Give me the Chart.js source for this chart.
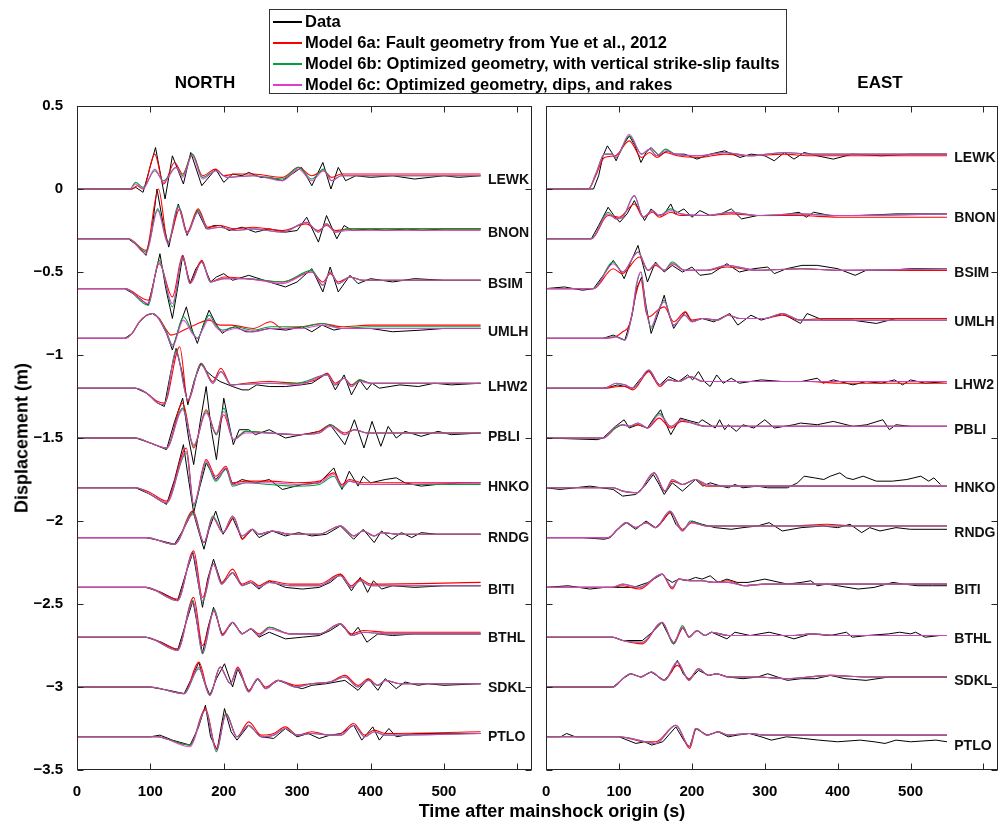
<!DOCTYPE html>
<html>
<head>
<meta charset="utf-8">
<script src="https://cdn.jsdelivr.net/npm/chart.js@4.4.1/dist/chart.umd.min.js"></script>
<style>
  body { margin: 0; background: #fff; }
  #fig { position: relative; width: 1003px; height: 822px; overflow: hidden; background: #fff;
         font-family: "Liberation Sans", Arial, sans-serif; color: #000; }
  canvas { position: absolute; top: 0; }
  #north { left: 0; }
  #east { left: 537px; }
  .txt { position: absolute; font-weight: bold; white-space: nowrap; transform: translate(-50%, -50%); }
  #ylab { left: 22px; top: 438px; font-size: 18px; transform: translate(-50%, -50%) rotate(-90deg); }
  #xlab { left: 552px; top: 811px; font-size: 18px; }
  #tN { left: 205px; top: 83px; font-size: 17px; }
  #tE { left: 880px; top: 83px; font-size: 17px; }
  #legend { position: absolute; left: 269px; top: 9px; width: 518px; height: 85px; border: 1px solid #333;
            background: #fff; box-sizing: border-box; padding-top: 1px; }
  .row { position: relative; height: 21px; line-height: 21px; font-size: 16.5px; font-weight: bold;
         white-space: nowrap; padding-left: 35px; }
  .row i { position: absolute; left: 3px; top: 10px; width: 29px; height: 1.5px; }
</style>
</head>
<body>
<div id="fig">
  <canvas id="north" width="537" height="822"></canvas>
  <canvas id="east" width="466" height="822"></canvas>
  <div class="txt" id="tN">NORTH</div>
  <div class="txt" id="tE">EAST</div>
  <div class="txt" id="ylab">Displacement (m)</div>
  <div class="txt" id="xlab">Time after mainshock origin (s)</div>
  <div id="legend">
    <div class="row"><i style="background:#000"></i>Data</div>
    <div class="row"><i style="background:#ff0000"></i>Model 6a: Fault geometry from Yue et al., 2012</div>
    <div class="row"><i style="background:#00a03c"></i>Model 6b: Optimized geometry, with vertical strike-slip faults</div>
    <div class="row"><i style="background:#e03ccd"></i>Model 6c: Optimized geometry, dips, and rakes</div>
  </div>
</div>
<script>
// stations, offsets (m) and traces: [time s, displacement cm relative to offset, ...]
const stations = ["LEWK", "BNON", "BSIM", "UMLH", "LHW2", "PBLI", "HNKO", "RNDG", "BITI", "BTHL", "SDKL", "PTLO"];
const stationOffsets = [0, -0.3, -0.6, -0.9, -1.2, -1.5, -1.8, -2.1, -2.4, -2.7, -3.0, -3.3];
const xTicks = [0, 100, 200, 300, 400, 500, 600];
const xTickLabels = ["0", "100", "200", "300", "400", "500", ""];
const yTicks = [-3.5, -3, -2.5, -2, -1.5, -1, -0.5, 0, 0.5];

// ---------- NORTH ----------
const northData = [
  [0,0, 75,0, 80,1, 90,-2, 107,25, 120,-6, 130,20, 145,3, 155,22, 170,2, 189,12, 200,4, 212,9, 225,8, 234,10, 250,7, 262,7, 280,5, 306,13, 320,2, 335,16, 346,0, 356,13, 366,5, 380,8, 400,7, 430,8, 460,6, 500,8, 520,7, 550,8],
  [0,0, 70,0, 82,-4, 94,-10, 102,5, 109,30, 117,10, 125,-5, 138,21, 150,2, 164,17, 176,6, 186,8, 196,8, 207,5, 225,7, 243,4, 262,6, 284,4, 300,5, 313,13, 329,-2, 340,14, 354,0, 364,8, 375,5, 400,6, 420,5, 450,6, 470,5, 500,6, 550,6],
  [0,0, 65,0, 80,-4, 97,-10, 105,5, 113,21, 121,0, 130,-18, 137,0, 144,20, 154,3, 162,12, 170,17, 182,4, 190,7, 200,9, 212,5, 234,8, 262,4, 284,1, 300,4, 320,12, 335,-2, 345,13, 356,-2, 372,8, 383,3, 400,6, 430,4, 460,6, 500,5, 550,5],
  [0,0, 65,0, 75,3, 85,10, 95,14, 103,15, 112,12, 122,3, 130,-7, 140,8, 149,19, 157,5, 164,-3, 172,8, 180,17, 189,9, 198,3, 207,6, 216,7, 230,4, 240,4, 262,6, 285,5, 307,7, 320,4, 334,8, 350,5, 361,6, 400,6, 430,4, 470,5, 500,6, 550,6],
  [0,0, 80,0, 95,-3, 110,-9, 119,-11, 127,8, 135,24, 143,10, 151,-10, 160,5, 169,15, 177,10, 185,7, 195,4, 212,1, 225,-1, 234,-1, 245,2, 262,1, 284,1, 305,2, 320,3, 341,9, 352,-1, 364,8, 374,-4, 385,5, 395,-1, 402,3, 412,0, 440,2, 465,1, 487,3, 510,2, 550,3],
  [0,0, 80,0, 100,-3, 122,-7, 133,10, 144,24, 152,0, 159,-16, 168,10, 176,31, 183,5, 190,-13, 200,24, 213,-4, 221,5, 234,5, 243,2, 262,5, 284,0, 307,2, 330,4, 345,8, 365,-4, 378,11, 391,-6, 402,10, 414,-5, 424,7, 435,0, 447,4, 469,1, 492,4, 510,2, 550,3],
  [0,0, 80,0, 100,-4, 122,-10, 133,5, 145,26, 152,5, 159,-15, 167,0, 176,15, 189,5, 203,12, 212,2, 225,5, 243,3, 262,5, 280,-1, 307,2, 330,3, 350,12, 361,-1, 371,10, 383,1, 390,7, 400,3, 420,5, 435,6, 447,3, 469,1, 490,2, 520,3, 550,3],
  [0,0, 94,0, 115,-2, 133,-4, 145,5, 158,16, 165,5, 173,-7, 180,5, 189,16, 199,2, 212,12, 225,-1, 239,5, 248,0, 266,4, 284,1, 302,3, 320,1, 340,2, 359,7, 377,-1, 390,5, 405,-3, 415,4, 429,-1, 442,3, 456,0, 469,3, 490,2, 550,2],
  [0,0, 94,0, 115,-3, 137,-8, 148,8, 158,21, 165,3, 171,-12, 178,5, 186,17, 197,2, 212,9, 225,1, 237,3, 248,-1, 262,4, 284,0, 307,-1, 330,0, 345,3, 359,8, 374,-2, 386,6, 396,-3, 404,4, 415,-1, 430,1, 460,0, 500,1, 550,1],
  [0,0, 94,0, 115,-3, 137,-8, 148,8, 158,22, 165,5, 171,-10, 178,5, 186,18, 198,1, 212,9, 225,2, 237,5, 248,0, 262,3, 284,-1, 307,0, 330,1, 345,4, 359,8, 374,1, 383,6, 395,-3, 410,2, 430,1, 460,2, 500,2, 550,2],
  [0,0, 99,0, 125,-2, 146,-4, 156,5, 166,15, 172,5, 181,-5, 190,5, 201,14, 212,0, 219,11, 234,-3, 246,5, 257,-1, 274,4, 298,0, 307,-1, 320,1, 340,2, 365,4, 383,-2, 397,5, 410,-2, 420,5, 435,-1, 447,3, 465,1, 478,2, 500,1, 550,2],
  [0,0, 100,0, 113,1, 130,-2, 154,-5, 165,5, 175,19, 182,0, 191,-8, 196,5, 201,17, 210,3, 218,-2, 234,7, 251,0, 268,-1, 284,5, 300,0, 315,2, 330,-1, 345,1, 360,2, 377,7, 388,-2, 403,6, 412,-2, 425,5, 435,0, 460,2, 500,2, 550,2]
];

const northModelA = [
  [0,0, 75,0, 82,2, 90,0, 106,21, 118,3, 133,16, 144,9, 157,21, 171,8, 189,12, 200,8, 215,9, 240,9, 280,7, 302,13, 320,8, 336,11, 347,7, 360,9, 550,9],
  [0,0, 70,0, 94,-7, 111,30, 124,-2, 140,18, 150,4, 165,18, 178,7, 195,8, 215,6, 240,7, 280,5, 312,9, 329,5, 340,8, 352,5, 370,6, 550,6],
  [0,0, 65,0, 97,-7, 112,15, 130,-5, 144,20, 154,4, 170,17, 182,4, 200,7, 230,6, 280,4, 320,10, 335,4, 345,9, 356,4, 372,7, 390,5, 550,5],
  [0,0, 65,0, 75,3, 85,10, 95,14, 103,15, 112,12, 122,5, 128,2, 150,6, 165,9, 180,11, 195,8, 210,8, 240,6, 264,10, 280,6, 307,7, 334,9, 361,7, 400,8, 550,8],
  [0,0, 80,0, 95,-3, 110,-8, 119,-9, 140,25, 151,-8, 169,15, 185,4, 196,12, 210,2, 230,3, 262,4, 300,3, 325,5, 341,9, 352,3, 364,6, 374,2, 385,5, 400,3, 550,3],
  [0,0, 80,0, 100,-3, 122,-6, 144,21, 159,-6, 176,17, 190,2, 200,14, 213,-1, 230,4, 262,3, 300,2, 330,4, 345,8, 365,3, 378,5, 395,3, 550,3],
  [0,0, 80,0, 100,-3, 122,-8, 149,24, 159,-10, 176,17, 189,7, 203,13, 212,3, 230,4, 262,4, 300,3, 330,4, 350,9, 361,2, 371,5, 390,3, 550,3],
  [0,0, 94,0, 133,-4, 158,16, 173,-3, 185,12, 199,3, 214,12, 225,-1, 239,5, 248,2, 266,4, 290,2, 330,2, 359,7, 377,1, 390,4, 405,1, 415,3, 440,2, 550,2],
  [0,0, 94,0, 137,-7, 159,22, 171,-6, 186,14, 197,3, 212,11, 225,2, 237,4, 248,1, 262,4, 290,2, 330,2, 359,8, 374,1, 386,5, 400,2, 550,3],
  [0,0, 94,0, 137,-7, 159,24, 171,-5, 187,16, 198,2, 212,9, 225,2, 237,5, 248,2, 262,6, 290,2, 330,2, 359,8, 374,2, 390,4, 420,3, 550,3],
  [0,0, 99,0, 146,-4, 166,15, 181,-5, 195,12, 209,2, 219,12, 234,-2, 246,5, 257,0, 274,4, 298,1, 320,2, 345,3, 365,7, 383,1, 397,5, 410,1, 420,4, 440,2, 550,2],
  [0,0, 110,0, 120,-1, 154,-5, 175,17, 190,-7, 203,14, 218,0, 234,9, 251,1, 268,2, 284,6, 300,1, 320,3, 345,1, 360,2, 377,8, 392,1, 405,4, 420,2, 550,3]
];

const northModelB = [
  [0,0, 72,0, 80,4, 90,1, 106,11, 118,5, 135,13, 144,8, 157,21, 171,7, 189,11, 205,7, 240,8, 280,6, 302,13, 320,6, 336,12, 347,5, 360,8, 550,8],
  [0,0, 70,0, 94,-8, 110,18, 124,-2, 138,20, 150,3, 165,17, 178,6, 195,7, 215,5, 240,6, 280,4, 313,10, 329,4, 340,9, 352,4, 370,6, 550,6],
  [0,0, 65,0, 97,-10, 112,17, 130,-11, 144,19, 154,3, 170,16, 182,4, 200,6, 230,6, 280,4, 320,11, 335,2, 345,10, 356,3, 372,7, 390,5, 550,5],
  [0,0, 65,0, 75,3, 85,10, 103,15, 122,4, 130,-4, 145,13, 157,4, 164,0, 172,7, 180,14, 189,8, 198,5, 216,7, 240,5, 264,7, 307,7, 334,9, 361,6, 400,7, 550,7],
  [0,0, 80,0, 95,-3, 110,-9, 119,-10, 135,23, 151,-7, 169,15, 185,3, 196,10, 210,2, 262,3, 300,3, 341,8, 352,2, 364,6, 374,1, 385,5, 400,3, 550,3],
  [0,0, 80,0, 100,-3, 122,-6, 144,18, 159,-5, 176,16, 190,2, 200,18, 213,-1, 230,4, 262,3, 300,2, 330,3, 345,8, 365,2, 378,5, 395,3, 550,3],
  [0,0, 80,0, 100,-4, 122,-9, 149,21, 159,-11, 176,15, 189,4, 203,11, 212,1, 230,3, 262,2, 300,1, 330,2, 350,7, 361,0, 371,4, 390,2, 550,2],
  [0,0, 94,0, 133,-4, 158,15, 173,-3, 185,13, 199,3, 212,13, 225,1, 239,5, 248,2, 266,4, 290,2, 330,2, 359,7, 377,1, 390,4, 405,1, 415,3, 440,2, 550,2],
  [0,0, 94,0, 137,-8, 158,20, 171,-9, 186,14, 197,2, 212,9, 225,1, 237,3, 248,0, 262,3, 290,1, 330,1, 359,7, 374,0, 386,4, 400,1, 550,1],
  [0,0, 94,0, 137,-8, 158,22, 171,-10, 187,17, 198,1, 212,9, 225,2, 237,5, 248,1, 262,6, 290,2, 330,2, 359,8, 374,1, 390,3, 420,2, 550,2],
  [0,0, 99,0, 146,-4, 166,11, 181,-5, 195,12, 209,2, 219,11, 234,-3, 246,5, 257,-1, 274,4, 298,0, 320,2, 345,3, 365,6, 383,0, 397,4, 410,1, 420,4, 440,2, 550,2],
  [0,0, 110,0, 120,-1, 154,-5, 175,16, 190,-9, 203,14, 218,0, 234,7, 251,0, 268,1, 284,5, 300,1, 320,2, 345,1, 360,1, 377,7, 392,0, 405,3, 420,1, 550,2]
];

const northModelC = [
  [0,0, 72,0, 80,3, 90,0, 106,12, 118,4, 135,13, 144,7, 157,20, 171,6, 189,11, 205,7, 240,8, 280,5, 302,12, 320,5, 336,11, 347,5, 360,8, 550,8],
  [0,0, 70,0, 94,-9, 110,17, 124,-3, 138,19, 150,3, 165,16, 178,6, 195,7, 215,5, 240,6, 280,4, 313,10, 329,4, 340,9, 352,4, 370,5, 550,5],
  [0,0, 65,0, 97,-9, 112,16, 130,-9, 144,19, 154,3, 170,16, 182,4, 200,6, 230,6, 280,3, 320,10, 335,2, 345,10, 356,3, 372,7, 390,5, 550,5],
  [0,0, 65,0, 75,3, 85,10, 103,15, 122,3, 130,-5, 145,11, 157,3, 164,0, 172,6, 180,12, 189,7, 198,4, 216,6, 240,4, 264,6, 307,6, 334,8, 361,6, 400,6, 550,6],
  [0,0, 80,0, 95,-3, 110,-9, 119,-10, 135,22, 151,-7, 169,14, 185,3, 196,10, 210,2, 262,3, 300,2, 341,8, 352,2, 364,6, 374,1, 385,4, 400,3, 550,3],
  [0,0, 80,0, 100,-3, 122,-6, 144,17, 159,-4, 176,15, 190,3, 200,16, 213,-1, 230,3, 262,3, 300,2, 330,3, 345,7, 365,2, 378,5, 395,3, 550,3],
  [0,0, 80,0, 100,-4, 122,-9, 149,22, 159,-10, 176,16, 189,5, 203,12, 212,2, 230,3, 262,3, 300,2, 330,3, 350,8, 361,1, 371,4, 390,2, 550,3],
  [0,0, 94,0, 133,-4, 158,14, 173,-3, 185,12, 199,3, 212,13, 225,1, 239,5, 248,2, 266,4, 290,2, 330,2, 359,7, 377,1, 390,4, 405,1, 415,3, 440,2, 550,2],
  [0,0, 94,0, 137,-8, 158,20, 171,-8, 186,14, 197,2, 212,9, 225,1, 237,3, 248,0, 262,3, 290,1, 330,1, 359,7, 374,0, 386,4, 400,1, 550,1],
  [0,0, 94,0, 137,-8, 158,21, 171,-9, 187,16, 198,1, 212,9, 225,2, 237,5, 248,1, 262,5, 290,2, 330,2, 359,8, 374,1, 390,3, 420,2, 550,2],
  [0,0, 99,0, 146,-4, 166,12, 181,-5, 195,12, 209,2, 219,11, 234,-3, 246,5, 257,-1, 274,4, 298,0, 320,2, 345,3, 365,6, 383,0, 397,4, 410,1, 420,4, 440,2, 550,2],
  [0,0, 110,0, 120,-1, 154,-6, 175,16, 190,-8, 203,13, 218,0, 234,7, 251,0, 268,1, 284,5, 300,1, 320,2, 345,1, 360,1, 377,7, 392,0, 405,3, 420,1, 550,2]
];

// ---------- EAST ----------
const eastData = [
  [0,0, 65,0, 72,8, 78,20, 84,26, 90,22, 96,17, 105,26, 114,32, 122,26, 130,16, 137,22, 144,25, 155,20, 166,23, 177,21, 190,21, 207,18, 225,21, 245,23, 266,19, 281,21, 300,20, 313,17, 327,22, 340,18, 354,22, 372,20, 394,18, 420,21, 460,20, 500,21, 550,21],
  [0,0, 62,0, 72,8, 85,19, 93,14, 101,10, 111,15, 121,23, 128,17, 135,11, 144,18, 153,14, 162,15, 171,21, 177,15, 189,18, 200,13, 211,17, 225,14, 240,15, 254,18, 268,12, 290,14, 320,14, 347,16, 357,13, 367,16, 390,14, 430,14, 480,15, 550,15],
  [0,0, 25,1, 50,-1, 65,0, 80,9, 92,17, 100,12, 107,6, 117,17, 126,26, 133,14, 139,4, 150,16, 162,10, 173,14, 187,10, 200,13, 211,8, 227,9, 248,15, 265,10, 285,12, 304,13, 313,9, 330,12, 351,14, 372,14, 400,12, 424,8, 439,11, 470,11, 500,12, 550,12],
  [0,0, 78,0, 92,2, 108,-1, 118,14, 124,30, 131,37, 137,20, 144,3, 153,14, 162,26, 168,15, 175,6, 184,12, 191,16, 200,10, 214,12, 230,10, 252,15, 263,8, 281,14, 295,11, 324,15, 349,9, 358,15, 380,11, 420,11, 453,9, 480,12, 550,12],
  [0,0, 78,0, 90,1, 98,2, 108,1, 119,0, 130,6, 141,11, 149,5, 156,2, 168,7, 182,4, 194,8, 201,5, 209,10, 217,4, 225,1, 234,8, 243,3, 254,6, 265,3, 295,5, 325,4, 350,4, 372,6, 380,3, 394,5, 421,2, 439,4, 460,3, 478,5, 489,2, 500,5, 520,3, 550,4],
  [0,0, 70,-1, 78,0, 95,7, 107,11, 114,6, 126,8, 139,6, 148,12, 157,17, 164,9, 171,2, 184,12, 200,10, 209,9, 214,11, 232,6, 238,11, 245,5, 250,8, 261,4, 270,8, 285,6, 300,11, 313,6, 340,8, 349,9, 372,8, 394,10, 421,7, 440,8, 462,11, 471,5, 480,8, 500,7, 550,7],
  [0,0, 19,-1, 60,1, 92,-1, 105,-5, 123,-4, 135,1, 147,8, 155,2, 162,-4, 173,3, 187,-2, 205,5, 215,1, 225,3, 240,1, 250,0, 259,2, 270,0, 290,1, 304,0, 331,0, 345,3, 354,7, 368,6, 381,5, 390,7, 403,9, 412,6, 421,5, 435,7, 453,4, 475,4, 495,5, 514,7, 525,4, 532,6, 541,2],
  [0,0, 50,0, 80,-1, 88,0, 98,5, 110,9, 123,5, 137,10, 150,6, 160,10, 170,16, 178,8, 187,4, 200,10, 214,8, 232,6, 254,5, 270,6, 290,7, 306,9, 324,4, 350,6, 380,7, 400,6, 417,8, 433,3, 444,6, 458,4, 480,6, 500,5, 550,5],
  [0,0, 30,1, 60,-1, 80,0, 100,0, 120,0, 140,3, 159,8, 166,5, 173,3, 182,5, 193,4, 205,6, 214,5, 225,7, 236,3, 248,5, 262,3, 277,3, 300,5, 331,2, 350,3, 363,4, 372,1, 385,2, 400,1, 428,-1, 450,0, 476,3, 490,2, 510,1, 530,1, 550,1],
  [0,0, 92,0, 105,-2, 132,-2, 148,4, 159,9, 167,2, 175,-4, 187,6, 196,0, 207,4, 218,1, 227,3, 248,-1, 259,3, 280,1, 306,3, 325,1, 340,-1, 363,2, 390,1, 412,3, 420,0, 440,1, 470,2, 485,3, 500,2, 507,3, 520,0, 540,1, 550,1],
  [0,0, 92,0, 105,5, 116,8, 130,6, 144,9, 162,4, 172,9, 180,16, 188,8, 196,4, 209,10, 223,7, 234,8, 250,6, 270,5, 290,6, 304,8, 331,4, 350,5, 370,5, 390,7, 410,5, 439,4, 470,6, 500,6, 550,6],
  [0,0, 20,0, 28,2, 40,0, 100,0, 123,-4, 135,-3, 145,-5, 160,-3, 178,6, 190,-3, 197,-6, 205,5, 221,1, 236,3, 250,0, 262,1, 279,2, 295,0, 309,-2, 330,0, 353,-1, 374,-2, 400,-3, 431,-2, 450,-3, 465,-4, 480,-2, 500,-3, 535,-2, 550,-3]
];

const eastModelA = [
  [0,0, 58,0, 68,8, 80,19, 95,20, 114,29, 131,19, 142,22, 152,19, 164,22, 180,20, 210,19, 245,21, 280,20, 327,21, 360,20, 550,20],
  [0,0, 62,0, 85,14, 100,13, 121,21, 133,13, 146,16, 155,13, 171,16, 185,14, 220,14, 254,15, 290,14, 347,14, 400,13, 550,13],
  [0,0, 65,0, 92,12, 104,9, 128,19, 140,11, 150,14, 162,11, 173,15, 190,11, 220,11, 248,13, 290,11, 351,12, 400,11, 550,11],
  [0,0, 78,0, 95,1, 105,4, 114,8, 124,28, 130,35, 137,16, 141,13, 153,17, 162,19, 175,10, 191,16, 200,11, 214,12, 235,11, 250,14, 265,12, 300,12, 324,14, 349,11, 380,12, 550,12],
  [0,0, 80,0, 100,1, 108,1, 119,-1, 141,10, 156,1, 168,5, 182,4, 198,7, 215,4, 250,4, 300,4, 360,4, 400,3, 550,3],
  [0,0, 78,0, 95,6, 105,8, 114,7, 126,8, 139,6, 155,12, 171,6, 186,10, 200,9, 220,7, 250,7, 300,7, 360,7, 420,7, 550,7],
  [0,0, 92,0, 105,-2, 125,-3, 148,9, 163,-2, 173,4, 187,2, 205,5, 220,1, 250,1, 300,1, 350,1, 400,1, 550,1],
  [0,0, 85,0, 98,5, 110,9, 123,6, 137,9, 150,6, 171,15, 187,5, 200,9, 220,7, 260,7, 300,7, 340,7, 385,8, 420,7, 550,7],
  [0,0, 90,0, 105,1, 128,-1, 159,8, 173,-1, 182,5, 200,4, 214,4, 230,3, 250,4, 272,1, 300,2, 350,2, 400,2, 550,2],
  [0,0, 92,0, 105,-2, 132,-4, 159,9, 175,-4, 188,6, 196,0, 207,4, 218,1, 227,3, 250,1, 300,1, 340,1, 363,2, 400,1, 550,1],
  [0,0, 92,0, 105,5, 116,8, 130,6, 144,9, 162,4, 180,13, 196,5, 209,11, 223,7, 234,8, 250,6, 290,6, 330,5, 390,7, 440,6, 550,6],
  [0,0, 100,0, 136,-3, 150,-3, 178,7, 197,-7, 206,5, 221,1, 236,3, 250,1, 279,2, 300,1, 374,1, 400,1, 550,1]
];

const eastModelB = [
  [0,0, 58,0, 68,9, 80,21, 90,21, 96,19, 114,32, 131,21, 142,24, 152,20, 164,24, 177,21, 210,20, 245,22, 280,20, 327,22, 360,21, 550,21],
  [0,0, 62,0, 85,16, 96,12, 105,13, 121,26, 133,13, 146,17, 155,14, 171,18, 185,15, 220,14, 254,16, 290,14, 347,15, 400,14, 550,15],
  [0,0, 65,0, 92,16, 105,10, 126,22, 140,11, 150,15, 162,11, 173,16, 190,11, 220,11, 248,14, 290,11, 351,12, 400,11, 550,12],
  [0,0, 78,0, 95,1, 108,-1, 118,15, 124,32, 130,40, 137,18, 144,6, 153,16, 162,23, 175,8, 190,14, 200,10, 214,12, 235,11, 250,14, 265,12, 300,12, 324,15, 349,11, 380,11, 550,11],
  [0,0, 80,0, 96,3, 108,2, 119,0, 141,11, 156,2, 168,5, 182,4, 198,7, 215,4, 250,4, 300,4, 360,4, 400,4, 550,4],
  [0,0, 78,0, 95,6, 105,8, 114,7, 126,9, 139,6, 155,15, 171,7, 186,11, 200,9, 220,7, 250,7, 300,7, 360,7, 420,7, 550,7],
  [0,0, 92,0, 105,-2, 125,-3, 148,9, 163,-2, 173,5, 187,2, 205,5, 220,2, 250,1, 300,1, 350,1, 400,1, 550,1],
  [0,0, 85,0, 98,5, 110,9, 123,6, 137,9, 150,6, 170,16, 187,4, 198,10, 220,7, 260,7, 300,7, 340,7, 385,7, 420,7, 550,7],
  [0,0, 90,0, 105,2, 128,0, 159,8, 173,0, 182,5, 200,4, 214,4, 230,3, 250,3, 272,1, 300,2, 350,2, 400,2, 550,2],
  [0,0, 92,0, 105,-2, 132,-3, 159,9, 175,-4, 187,7, 196,0, 207,4, 218,1, 227,3, 250,1, 300,1, 340,1, 363,2, 400,1, 550,1],
  [0,0, 92,0, 105,5, 116,8, 130,6, 144,9, 162,4, 180,15, 196,4, 209,11, 223,7, 234,8, 250,6, 290,6, 330,5, 390,7, 440,6, 550,6],
  [0,0, 100,0, 136,-3, 150,-4, 178,7, 197,-6, 205,5, 221,1, 236,3, 250,1, 279,2, 300,1, 374,1, 400,1, 550,1]
];

const eastModelC = [
  [0,0, 58,0, 68,9, 80,21, 90,21, 96,19, 114,33, 131,21, 142,24, 152,20, 164,23, 177,21, 210,20, 245,22, 280,20, 327,22, 360,21, 550,21],
  [0,0, 62,0, 85,15, 96,12, 105,13, 121,26, 133,13, 146,17, 155,14, 171,17, 185,15, 220,14, 254,16, 290,14, 347,15, 400,14, 550,15],
  [0,0, 65,0, 92,15, 105,10, 126,22, 140,11, 150,15, 162,11, 173,15, 190,11, 220,11, 248,14, 290,11, 351,12, 400,11, 550,12],
  [0,0, 78,0, 95,1, 108,-1, 118,15, 124,33, 130,40, 137,18, 144,7, 153,16, 162,22, 175,8, 190,14, 200,10, 214,12, 235,11, 250,14, 265,12, 300,12, 324,15, 349,11, 380,11, 550,11],
  [0,0, 80,0, 96,3, 108,2, 119,0, 141,11, 156,2, 168,5, 182,4, 198,7, 215,4, 250,4, 300,4, 360,4, 400,4, 550,4],
  [0,0, 78,0, 95,7, 105,8, 114,7, 126,9, 139,6, 155,14, 171,7, 186,11, 200,9, 220,7, 250,7, 300,7, 360,7, 420,7, 550,7],
  [0,0, 92,0, 105,-2, 125,-3, 148,9, 163,-2, 173,5, 187,2, 205,5, 220,2, 250,1, 300,1, 350,1, 400,1, 550,1],
  [0,0, 85,0, 98,5, 110,9, 123,6, 137,9, 150,6, 170,16, 187,4, 198,9, 220,7, 260,7, 300,7, 340,7, 385,7, 420,7, 550,7],
  [0,0, 90,0, 105,2, 128,0, 159,8, 173,0, 182,5, 200,4, 214,4, 230,3, 250,3, 272,1, 300,2, 350,2, 400,2, 550,2],
  [0,0, 92,0, 105,-2, 132,-3, 159,9, 175,-3, 187,6, 196,0, 207,4, 218,1, 227,3, 250,1, 300,1, 340,1, 363,2, 400,1, 550,1],
  [0,0, 92,0, 105,5, 116,8, 130,6, 144,9, 162,4, 180,15, 196,4, 209,11, 223,7, 234,8, 250,6, 290,6, 330,5, 390,7, 440,6, 550,6],
  [0,0, 100,0, 136,-3, 150,-4, 178,7, 197,-6, 205,5, 221,1, 236,3, 250,1, 279,2, 300,1, 374,1, 400,1, 550,1]
];

// ===============================
// helpers
// ===============================

Chart.defaults.font.family = "'Liberation Sans', Arial, sans-serif";
Chart.defaults.color = "#000";

function toPoints(pairs, offset) {
    const pts = [];
    for (let i = 0; i < pairs.length; i += 2) {
        pts.push({ x: pairs[i], y: offset + pairs[i + 1] / 100 });
    }
    return pts;
}

function fmtNum(v) {
    const s = String(Math.round(v * 10) / 10);
    return s.replace("-", "\u2212");
}

// box round the plot with inward ticks on all four sides
const boxPlugin = {
    id: "matlabBox",
    afterDraw: function (chart) {
        const ctx = chart.ctx;
        const a = chart.chartArea;
        const xs = chart.scales.x;
        const ys = chart.scales.y;
        const L = Math.round(a.left) + 0.5, R = Math.round(a.right) - 0.5;
        const T = Math.round(a.top) + 0.5, B = Math.round(a.bottom) - 0.5;

        ctx.save();
        ctx.strokeStyle = "#262626";
        ctx.lineWidth = 1;
        ctx.strokeRect(L, T, R - L, B - T);
        ctx.beginPath();
        xTicks.forEach(function (v) {
            const px = Math.round(xs.getPixelForValue(v)) + 0.5;
            ctx.moveTo(px, B); ctx.lineTo(px, B - 6);
            ctx.moveTo(px, T); ctx.lineTo(px, T + 6);
        });
        yTicks.forEach(function (v) {
            const py = Math.round(ys.getPixelForValue(v)) + 0.5;
            ctx.moveTo(L, py); ctx.lineTo(L + 6, py);
            ctx.moveTo(R, py); ctx.lineTo(R - 6, py);
        });
        ctx.stroke();
        ctx.restore();
    }
};

// station names at the end of each trace
const labelPlugin = {
    id: "stationLabels",
    afterDatasetsDraw: function (chart, args, opts) {
        const ctx = chart.ctx;
        const xs = chart.scales.x;
        const ys = chart.scales.y;
        ctx.save();
        ctx.font = "bold 14px 'Liberation Sans', Arial, sans-serif";
        ctx.fillStyle = "#111";
        ctx.textAlign = "left";
        ctx.textBaseline = "middle";
        stations.forEach(function (name, i) {
            const tr = opts.traces[i];
            const endVal = stationOffsets[i] + tr[tr.length - 1] / 100;
            ctx.fillText(name, xs.getPixelForValue(560), ys.getPixelForValue(endVal) + 4);
        });
        ctx.restore();
    }
};

function makeChart(canvasId, dataSet, modelA, modelB, modelC, leftAxis) {
    const datasets = [];
    const series = [
        { src: dataSet, color: "#000000", width: 1, order: 3, smooth: false },
        { src: modelA, color: "#ff0000", width: 1.1, order: 2, smooth: true },
        { src: modelB, color: "#00a03c", width: 1.1, order: 1, smooth: true },
        { src: modelC, color: "rgba(224, 60, 205, 0.9)", width: 1.1, order: 0, smooth: true }
    ];

    series.forEach(function (s) {
        stations.forEach(function (name, i) {
            datasets.push({
                label: name,
                data: toPoints(s.src[i], stationOffsets[i]),
                borderColor: s.color,
                borderWidth: s.width,
                pointRadius: 0,
                fill: false,
                order: s.order,
                tension: 0,
                cubicInterpolationMode: s.smooth ? "monotone" : "default"
            });
        });
    });

    return new Chart(document.getElementById(canvasId), {
        type: "line",
        data: { datasets: datasets },
        options: {
            responsive: false,
            animation: false,
            devicePixelRatio: 1,
            layout: { padding: { top: 106, right: 2, bottom: 0, left: 0 } },
            plugins: {
                legend: { display: false },
                tooltip: { enabled: false },
                stationLabels: { traces: dataSet }
            },
            scales: {
                x: {
                    type: "linear",
                    min: 0,
                    max: 620,
                    grid: { display: false },
                    border: { display: false },
                    ticks: {
                        stepSize: 100,
                        autoSkip: false,
                        maxRotation: 0,
                        padding: 5,
                        font: { size: 15, weight: "bold" },
                        callback: function (v) {
                            const k = xTicks.indexOf(v);
                            return k >= 0 ? xTickLabels[k] : "";
                        }
                    },
                    afterFit: function (s) { s.height = 52; }
                },
                y: {
                    type: "linear",
                    min: -3.5,
                    max: 0.5,
                    grid: { display: false },
                    border: { display: false },
                    ticks: {
                        display: leftAxis,
                        stepSize: 0.5,
                        padding: 6,
                        font: { size: 15, weight: "bold" },
                        callback: function (v) { return fmtNum(v); }
                    },
                    afterFit: function (s) { s.width = leftAxis ? 77 : 2; }
                }
            }
        },
        plugins: [boxPlugin, labelPlugin]
    });
}

makeChart("north", northData, northModelA, northModelB, northModelC, true);
makeChart("east", eastData, eastModelA, eastModelB, eastModelC, false);
</script>
</body>
</html>
